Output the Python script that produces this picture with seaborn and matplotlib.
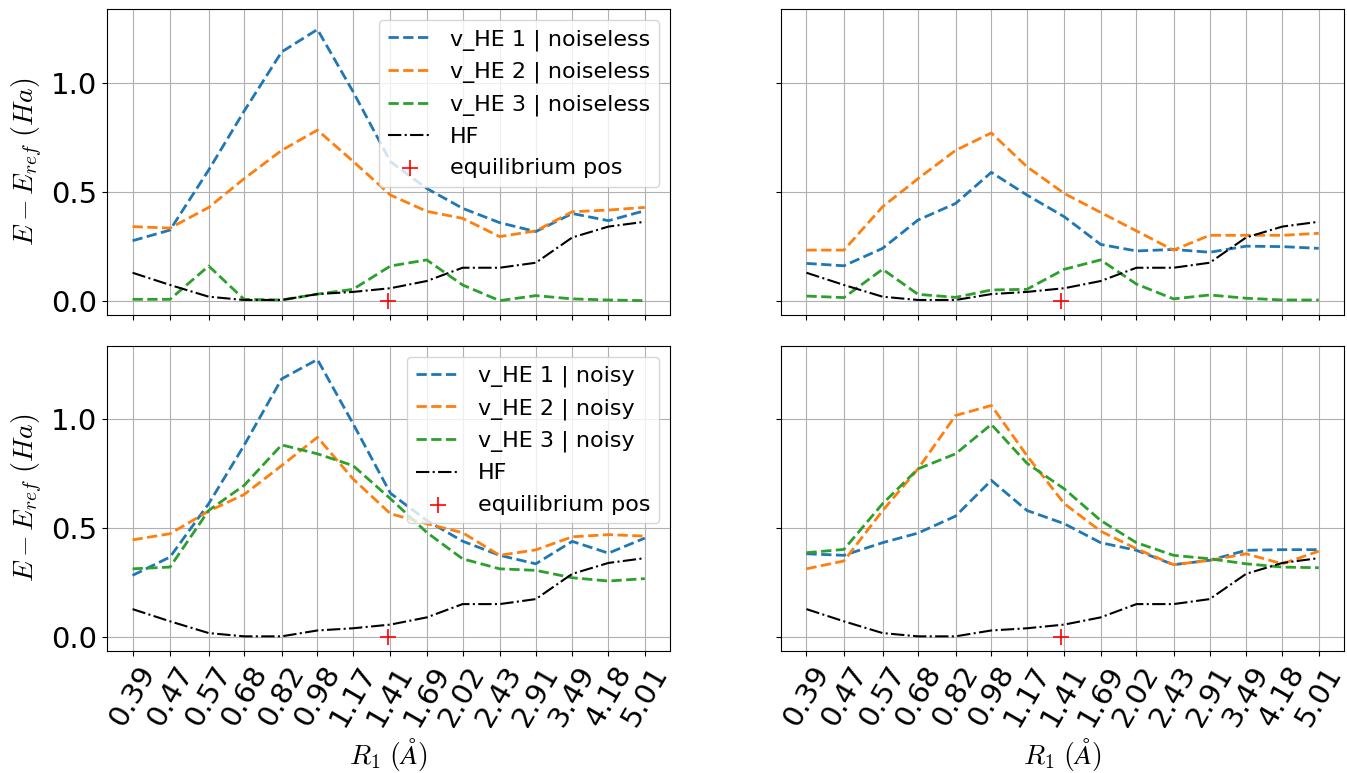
import numpy as np
import pandas as pd
import matplotlib
matplotlib.use("Agg")
import matplotlib.pyplot as plt
import seaborn as sns

# ---------------- data ----------------
R = [0.39, 0.47, 0.57, 0.68, 0.82, 0.98, 1.17, 1.41, 1.69, 2.02, 2.43, 2.91, 3.49, 4.18, 5.01]
R_labels = ["0.39", "0.47", "0.57", "0.68", "0.82", "0.98", "1.17", "1.41",
            "1.69", "2.02", "2.43", "2.91", "3.49", "4.18", "5.01"]
R_eq = 1.39

hf = [0.128, 0.072, 0.018, 0.003, 0.003, 0.030, 0.040, 0.057, 0.090, 0.151,
      0.151, 0.174, 0.290, 0.340, 0.362]

# left column
left_noiseless_1 = [0.275, 0.324, 0.60, 0.87, 1.142, 1.245, 0.96, 0.638, 0.515, 0.424,
                    0.358, 0.317, 0.400, 0.367, 0.413]
left_noiseless_2 = [0.340, 0.333, 0.428, 0.560, 0.690, 0.783, 0.640, 0.485, 0.410, 0.378,
                    0.294, 0.320, 0.408, 0.416, 0.428]
left_noiseless_3 = [0.006, 0.006, 0.159, 0.006, 0.003, 0.030, 0.052, 0.159, 0.187, 0.072,
                    0.000, 0.023, 0.008, 0.003, 0.000]
left_noisy_1 = [0.283, 0.367, 0.612, 0.880, 1.185, 1.274, 0.980, 0.660, 0.535, 0.440,
                0.375, 0.336, 0.439, 0.385, 0.454]
left_noisy_2 = [0.446, 0.474, 0.578, 0.654, 0.787, 0.917, 0.726, 0.566, 0.520, 0.479,
                0.375, 0.400, 0.460, 0.470, 0.463]
left_noisy_3 = [0.313, 0.321, 0.581, 0.696, 0.882, 0.841, 0.787, 0.635, 0.480, 0.359,
                0.313, 0.306, 0.272, 0.257, 0.268]

# right column
right_noiseless_1 = [0.171, 0.160, 0.240, 0.370, 0.446, 0.589, 0.485, 0.385, 0.258, 0.228,
                     0.235, 0.222, 0.250, 0.248, 0.240]
right_noiseless_2 = [0.232, 0.232, 0.431, 0.560, 0.690, 0.770, 0.615, 0.492, 0.405, 0.320,
                     0.232, 0.300, 0.300, 0.300, 0.309]
right_noiseless_3 = [0.021, 0.014, 0.144, 0.029, 0.015, 0.049, 0.052, 0.144, 0.187, 0.076,
                     0.008, 0.026, 0.011, 0.003, 0.003]
right_noisy_1 = [0.382, 0.375, 0.433, 0.477, 0.555, 0.719, 0.581, 0.520, 0.433, 0.398,
                 0.332, 0.352, 0.398, 0.401, 0.401]
right_noisy_2 = [0.313, 0.349, 0.580, 0.772, 1.017, 1.063, 0.833, 0.612, 0.486, 0.405,
                 0.332, 0.352, 0.382, 0.336, 0.394]
right_noisy_3 = [0.387, 0.402, 0.612, 0.772, 0.841, 0.976, 0.798, 0.680, 0.535, 0.433,
                 0.375, 0.359, 0.336, 0.321, 0.318]

panels = [
    [("noiseless", [left_noiseless_1, left_noiseless_2, left_noiseless_3], True),
     ("noiseless", [right_noiseless_1, right_noiseless_2, right_noiseless_3], False)],
    [("noisy", [left_noisy_1, left_noisy_2, left_noisy_3], True),
     ("noisy", [right_noisy_1, right_noisy_2, right_noisy_3], False)],
]
colors = ["#1f77b4", "#ff7f0e", "#2ca02c"]

plt.rcParams['mathtext.fontset'] = 'cm'

fig, axes = plt.subplots(2, 2, figsize=(13.47, 7.73), dpi=100, sharex=True, sharey=True)
fig.subplots_adjust(left=0.0794, right=0.998, top=0.988, bottom=0.158,
                    wspace=0.196, hspace=0.102)

for i in range(2):
    for j in range(2):
        ax = axes[i, j]
        kind, series, show_legend = panels[i][j]
        for k, vals in enumerate(series):
            sns.lineplot(x=R, y=vals, ax=ax, color=colors[k], linestyle="--",
                         linewidth=2, label=f"v_HE {k+1} | {kind}", legend=False)
        sns.lineplot(x=R, y=hf, ax=ax, color="black", linestyle="-.",
                     linewidth=1.5, label="HF", legend=False)
        sns.scatterplot(x=[R_eq], y=[0.0], ax=ax, marker="+", color="red", s=130,
                        linewidths=1.2, label="equilibrium pos", legend=False, zorder=3)
        ax.set_xscale("log")
        ax.grid(True, which="major", color="#b0b0b0", linewidth=0.8)
        ax.set_axisbelow(True)
        if show_legend:
            ax.legend(loc="upper right", fontsize=16)
        ax.set_xlabel("")
        ax.set_ylabel("")
        ax.tick_params(axis="both", labelsize=21)

for ax in axes.flat:
    ax.set_xticks(R)
    ax.minorticks_off()
    ax.set_yticks([0.0, 0.5, 1.0])

for ax in axes[1, :]:
    ax.set_xticklabels(R_labels, rotation=60)
    ax.set_xlabel(r"$R_1\ (\AA)$", fontsize=20)
for ax in axes[:, 0]:
    ax.set_ylabel(r"$E - E_{ref}\ (Ha)$", fontsize=20)

fig.savefig("out.png", dpi=100)
